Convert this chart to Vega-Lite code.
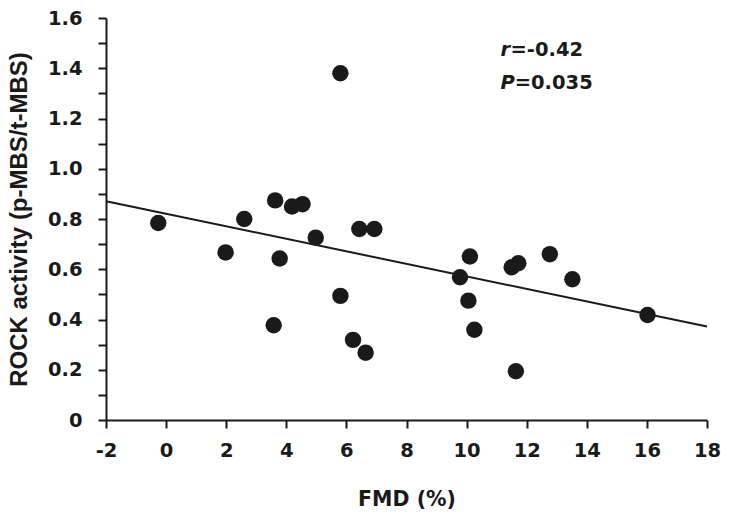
{
  "$schema": "https://vega.github.io/schema/vega-lite/v6.json",
  "width": 601,
  "height": 402,
  "autosize": "none",
  "padding": {"left": 106, "top": 18, "right": 22, "bottom": 103},
  "background": "white",
  "config": {
    "view": {"stroke": null},
    "font": "DejaVu Sans",
    "axis": {
      "domainColor": "#1a1a1a",
      "domainWidth": 2,
      "tickColor": "#1a1a1a",
      "tickWidth": 2,
      "tickSize": 8,
      "grid": false,
      "labelFlush": false,
      "labelFont": "DejaVu Sans",
      "labelFontWeight": "bold",
      "labelFontSize": 19.5,
      "labelColor": "#1a1a1a",
      "titleFontWeight": "bold",
      "titleColor": "#1a1a1a"
    }
  },
  "datasets": {
    "pts": [
      {"fmd": -0.26, "rock": 0.784},
      {"fmd": 1.98, "rock": 0.667},
      {"fmd": 2.6, "rock": 0.80},
      {"fmd": 3.63, "rock": 0.874},
      {"fmd": 3.78, "rock": 0.643},
      {"fmd": 3.58, "rock": 0.377},
      {"fmd": 4.19, "rock": 0.85},
      {"fmd": 4.54, "rock": 0.859},
      {"fmd": 4.98, "rock": 0.726},
      {"fmd": 5.8, "rock": 1.38},
      {"fmd": 5.8, "rock": 0.494},
      {"fmd": 6.22, "rock": 0.319},
      {"fmd": 6.43, "rock": 0.76},
      {"fmd": 6.64, "rock": 0.268},
      {"fmd": 6.93, "rock": 0.76},
      {"fmd": 9.78, "rock": 0.568},
      {"fmd": 10.11, "rock": 0.651},
      {"fmd": 10.06, "rock": 0.475},
      {"fmd": 10.26, "rock": 0.359},
      {"fmd": 11.5, "rock": 0.608},
      {"fmd": 11.72, "rock": 0.624},
      {"fmd": 11.64, "rock": 0.194},
      {"fmd": 12.77, "rock": 0.66},
      {"fmd": 13.52, "rock": 0.56},
      {"fmd": 16.02, "rock": 0.418}
    ],
    "fit": [
      {"fmd": -2, "rock": 0.871},
      {"fmd": 18, "rock": 0.372}
    ],
    "notes": [
      {"fmd": 11.13, "rest_fmd": 11.46, "rock": 1.472, "letter": "r", "rest": "=-0.42"},
      {"fmd": 11.13, "rest_fmd": 11.6, "rock": 1.341, "letter": "P", "rest": "=0.035"}
    ]
  },
  "encoding": {
    "x": {
      "field": "fmd",
      "type": "quantitative",
      "scale": {"domain": [-2, 18], "nice": false, "zero": false},
      "axis": {
        "title": "FMD (%)",
        "titleFont": "DejaVu Sans",
        "titleFontSize": 20.5,
        "values": [-2, 0, 2, 4, 6, 8, 10, 12, 14, 16, 18],
        "labelExpr": "datum.value < 0 ? '-' + (-datum.value) : '' + datum.value",
        "labelPadding": 13,
        "titlePadding": 30
      }
    },
    "y": {
      "field": "rock",
      "type": "quantitative",
      "scale": {"domain": [0, 1.6], "nice": false},
      "axis": {
        "title": "ROCK activity (p-MBS/t-MBS)",
        "titleFont": "Liberation Sans",
        "titleFontSize": 24,
        "values": [0, 0.1, 0.2, 0.3, 0.4, 0.5, 0.6, 0.7, 0.8, 0.9, 1.0, 1.1, 1.2, 1.3, 1.4, 1.5, 1.6],
        "labelExpr": "round(datum.value*10) % 2 == 0 ? (datum.value == 0 ? '0' : format(datum.value, '.1f')) : ''",
        "labelPadding": 16,
        "titlePadding": 16
      }
    }
  },
  "layer": [
    {
      "data": {"name": "fit"},
      "mark": {"type": "line", "color": "#1a1a1a", "strokeWidth": 2, "clip": false}
    },
    {
      "data": {"name": "pts"},
      "mark": {"type": "point", "shape": "circle", "filled": true, "opacity": 1, "size": 270, "color": "#1a1a1a"}
    },
    {
      "data": {"name": "notes"},
      "mark": {"type": "text", "align": "left", "baseline": "middle", "font": "DejaVu Sans", "fontWeight": "bold", "fontStyle": "italic", "fontSize": 19.5, "color": "#1a1a1a"},
      "encoding": {"text": {"field": "letter"}}
    },
    {
      "data": {"name": "notes"},
      "mark": {"type": "text", "align": "left", "baseline": "middle", "font": "DejaVu Sans", "fontWeight": "bold", "fontSize": 19.5, "color": "#1a1a1a"},
      "encoding": {"x": {"field": "rest_fmd", "type": "quantitative"}, "text": {"field": "rest"}}
    }
  ]
}
